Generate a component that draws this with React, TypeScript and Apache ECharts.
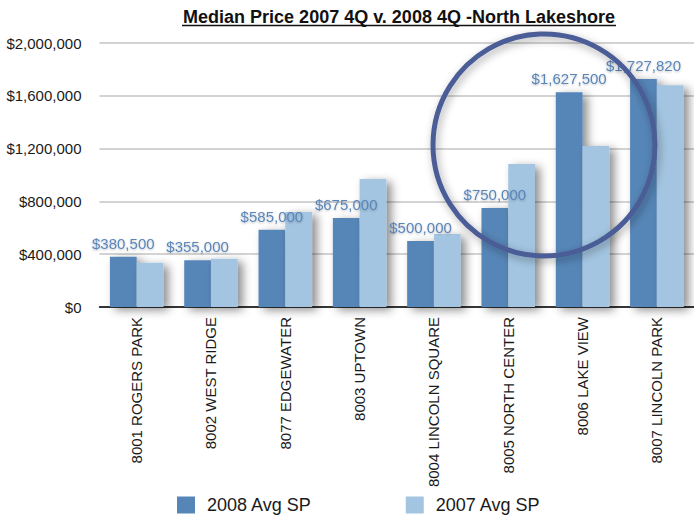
import React, { useEffect, useRef } from "react";
import * as echarts from "echarts";

const categories = [
  "8001 ROGERS PARK",
  "8002 WEST RIDGE",
  "8077 EDGEWATER",
  "8003 UPTOWN",
  "8004 LINCOLN SQUARE",
  "8005 NORTH CENTER",
  "8006 LAKE VIEW",
  "8007 LINCOLN PARK",
];
const avg2008 = [380500, 355000, 585000, 675000, 500000, 750000, 1627500, 1727820];
const avg2007 = [335000, 365000, 720000, 970000, 553000, 1083000, 1220000, 1680000];
const seriesNames = ["2008 Avg SP", "2007 Avg SP"];
const titleText = "Median Price 2007 4Q v. 2008 4Q -North Lakeshore";

const FONT = "'Liberation Sans', Arial, Helvetica, sans-serif";
const money = (v: number) => "$" + Math.round(v).toLocaleString("en-US");

export default function App() {
  const ref = useRef<HTMLDivElement>(null);
  useEffect(() => {
    if (!ref.current) return;
    const chart = echarts.init(ref.current, undefined, { renderer: "svg" });
    chart.setOption({
      animation: false,
      backgroundColor: "#ffffff",
      textStyle: { fontFamily: FONT },
      grid: { left: 99.5, right: -5.5, top: 43, bottom: 208, containLabel: false },
      legend: {
        left: 177,
        top: 496,
        padding: 0,
        itemWidth: 18,
        itemHeight: 17,
        itemGap: 94,
        icon: "rect",
        textStyle: {
          fontSize: 18,
          lineHeight: 17,
          color: "#1a1a1a",
          fontFamily: FONT,
          padding: [0, 0, 0, 7],
        },
        data: seriesNames,
      },
      xAxis: {
        type: "category",
        data: categories,
        axisLine: { lineStyle: { color: "#000", width: 1.5 } },
        axisTick: { show: false },
        axisLabel: { rotate: 90, fontSize: 15, color: "#1a1a1a", margin: 10, fontFamily: FONT, interval: 0 },
      },
      yAxis: {
        type: "value",
        min: 0,
        max: 2000000,
        interval: 400000,
        axisLine: { show: false },
        axisTick: { show: false },
        axisLabel: { formatter: money, fontSize: 15, color: "#1a1a1a", margin: 18, fontFamily: FONT },
        splitLine: { lineStyle: { color: "#c4c4c4", width: 1.5 } },
      },
      series: [
        {
          name: seriesNames[0],
          type: "bar",
          data: avg2008,
          barGap: "0%",
          barCategoryGap: "28%",
          itemStyle: {
            color: "#5686b8",
            shadowColor: "rgba(0,0,0,0.45)",
            shadowBlur: 10,
            shadowOffsetX: 5,
            shadowOffsetY: 3,
          },
          label: {
            show: true,
            position: "top",
            distance: 6,
            formatter: (p: any) => money(p.value),
            fontSize: 15,
            color: "#5a86ba",
            fontFamily: FONT,
            textShadowColor: "rgba(0,0,0,0.25)",
            textShadowBlur: 2,
            textShadowOffsetY: 1,
          },
        },
        {
          name: seriesNames[1],
          type: "bar",
          data: avg2007,
          barGap: "0%",
          barCategoryGap: "28%",
          itemStyle: {
            color: "#a3c5e1",
            shadowColor: "rgba(0,0,0,0.45)",
            shadowBlur: 10,
            shadowOffsetX: 5,
            shadowOffsetY: 3,
          },
        },
      ],
      graphic: [
        {
          type: "text",
          x: 399,
          y: 17,
          style: {
            text: titleText,
            font: `bold 18px ${FONT}`,
            fill: "#111",
            textAlign: "center",
            textVerticalAlign: "middle",
          },
        },
        {
          type: "line",
          shape: { x1: 182, y1: 25.5, x2: 616, y2: 25.5 },
          style: { stroke: "#111", lineWidth: 1.5 },
        },
        {
          type: "circle",
          shape: { cx: 544, cy: 145, r: 111 },
          z: 100,
          style: {
            fill: "none",
            stroke: "#4b5d96",
            lineWidth: 5,
            shadowColor: "rgba(0,0,0,0.35)",
            shadowBlur: 8,
            shadowOffsetX: 2,
            shadowOffsetY: 3,
          },
        },
      ],
    });
    return () => chart.dispose();
  }, []);
  return <div ref={ref} style={{ width: 694, height: 515, position: "absolute", left: 0, top: 0 }} />;
}
